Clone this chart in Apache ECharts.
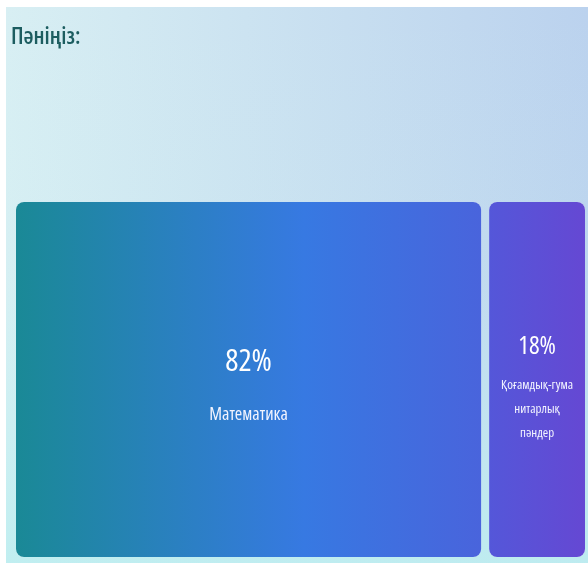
<!DOCTYPE html>
<html>
<head>
<meta charset="utf-8">
<script src="https://cdn.jsdelivr.net/npm/echarts@6/dist/echarts.min.js"></script>
<style>
html,body{margin:0;padding:0;background:#ffffff;}
#chart{width:588px;height:563px;}
</style>
</head>
<body>
<div id="chart"></div>
<script>
// ---- data ----
var titleText = 'Пәніңіз:';
var categories = ['Математика', 'Қоғамдық-гуманитарлық пәндер'];
var labelNames = ['Математика', 'Қоғамдық-гума\nнитарлық\nпәндер'];
var values = [82, 18];
var percentLabels = ['82%', '18%'];

// ---- styles ----
var FONT = "'Open Sans','Roboto',sans-serif";
var fills = [
  new echarts.graphic.LinearGradient(0, 0, 1, 0, [
    {offset: 0, color: '#1a8996'},
    {offset: 0.62, color: '#3779e2'},
    {offset: 1, color: '#4964dc'}
  ]),
  new echarts.graphic.LinearGradient(0, 0, 1, 0, [
    {offset: 0, color: '#5457d9'},
    {offset: 1, color: '#6548d3'}
  ])
];
var pctSizes = [31, 25];
var nameSizes = [18, 13];
var pctLH = [80, 52];
var nameLH = [26, 24];
var padTop = [120, 119];

var data = categories.map(function (c, i) {
  return {
    name: c,
    value: values[i],
    itemStyle: {color: fills[i], borderRadius: 8, borderWidth: 0},
    label: {
      padding: [padTop[i], 0, 0, 0],
      formatter: '{p|' + percentLabels[i] + '}\n{n|' + labelNames[i].split('\n').join('}\n{n|') + '}',
      rich: {
        p: {fontSize: pctSizes[i], fontFamily: FONT, fontStyle: 'condensed', fontWeight: 400, color: '#ffffff', lineHeight: pctLH[i], align: 'center'},
        n: {fontSize: nameSizes[i], fontFamily: FONT, fontStyle: 'condensed', fontWeight: 400, color: '#f2f4ff', lineHeight: nameLH[i], align: 'center'}
      }
    }
  };
});

var chart = echarts.init(document.getElementById('chart'), null, {renderer: 'canvas'});
chart.setOption({
  animation: false,
  backgroundColor: '#ffffff',
  graphic: [
    {
      type: 'rect', z: -10, silent: true,
      shape: {x: 6, y: 7, width: 582, height: 556},
      style: {fill: new echarts.graphic.LinearGradient(0, 0, 1, 0, [
        {offset: 0, color: '#d8eff3'},
        {offset: 1, color: '#bbd2ee'}
      ])}
    },
    {
      type: 'rect', z: -9, silent: true,
      shape: {x: 6, y: 7, width: 582, height: 556},
      style: {fill: new echarts.graphic.LinearGradient(0, 0, 0, 1, [
        {offset: 0, color: 'rgba(200,240,242,0)'},
        {offset: 0.5, color: 'rgba(200,240,242,0.15)'},
        {offset: 1, color: 'rgba(190,238,240,0.9)'}
      ])}
    }
  ],
  title: {
    text: titleText,
    left: 6, top: 21,
    textStyle: {fontSize: 23, fontWeight: 600, fontStyle: 'condensed', color: '#1c5d60', fontFamily: FONT}
  },
  series: [{
    type: 'treemap',
    left: 16, top: 202, right: 3, bottom: 6,
    roam: false,
    nodeClick: false,
    breadcrumb: {show: false},
    label: {show: true, position: 'inside', align: 'center', verticalAlign: 'middle'},
    upperLabel: {show: false},
    levels: [
      {itemStyle: {gapWidth: 8, borderWidth: 0, borderColor: 'transparent'}},
      {itemStyle: {borderWidth: 0, gapWidth: 0}}
    ],
    data: data
  }]
});
</script>
</body>
</html>
